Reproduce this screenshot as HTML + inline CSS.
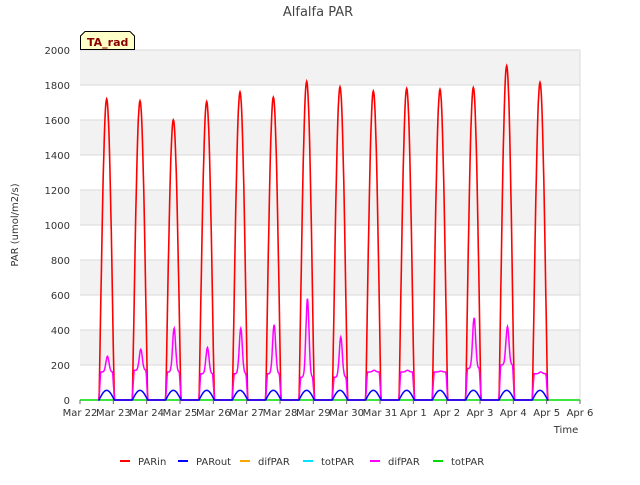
<!DOCTYPE html>
<html><head><meta charset="utf-8"><style>
body{margin:0;background:#fff;font-family:"Liberation Sans","DejaVu Sans",sans-serif;}
svg text{font-family:"DejaVu Sans","Liberation Sans",sans-serif;}
</style></head><body>
<svg id="chart" width="640" height="480">
<text x="318" y="16" text-anchor="middle" font-size="13" fill="#444">Alfalfa PAR</text>
<g id="grid"></g><g id="series"></g><g id="axes"></g>
<text transform="translate(18,225) rotate(-90)" text-anchor="middle" font-size="10" fill="#333">PAR (umol/m2/s)</text>
<text x="566" y="433" text-anchor="middle" font-size="10" fill="#333">Time</text>
<g><path d="M80.5,49.5 V36 L85,31.5 H130 L134.5,36 V49.5 Z" fill="#ffffc8" stroke="#000"/><text x="87" y="46" font-size="11" font-weight="bold" fill="#8b0000">TA_rad</text></g>
<g id="legend"></g>
</svg>
<script>
const dayLabels=["Mar 22","Mar 23","Mar 24","Mar 25","Mar 26","Mar 27","Mar 28","Mar 29","Mar 30","Mar 31","Apr 1","Apr 2","Apr 3","Apr 4","Apr 5","Apr 6"];
const yTicks=[0,200,400,600,800,1000,1200,1400,1600,1800,2000];
const parinPeaks=[1720,1710,1600,1705,1760,1730,1820,1790,1765,1780,1775,1785,1910,1815];
const difparPeaks=[250,290,410,300,410,430,580,360,170,170,165,470,420,160];
const difparBase=[160,170,160,150,150,150,130,130,160,160,160,180,200,150];
const paroutPeaks=[55,55,55,55,55,55,55,55,55,55,55,55,55,55];
const ns="http://www.w3.org/2000/svg";
const X0=80,X1=580,Y0=400,Y1=50;
const xs=d=>X0+(X1-X0)*d/15, ys=v=>Y0-(Y0-Y1)*v/2000;
function mk(t,a,p){const e=document.createElementNS(ns,t);for(const k in a)e.setAttribute(k,a[k]);p.appendChild(e);return e;}
const grid=document.getElementById('grid'),axes=document.getElementById('axes'),ser=document.getElementById('series'),leg=document.getElementById('legend');
for(let i=0;i<yTicks.length-1;i++){if(i%2==1){const r=mk('rect',{x:X0,y:ys(yTicks[i+1]),width:X1-X0,height:ys(yTicks[i])-ys(yTicks[i+1]),fill:'#f2f2f2'},grid);}}
yTicks.forEach(v=>{const l=mk('line',{x1:X0,x2:X1,y1:ys(v),y2:ys(v),stroke:'#d9d9d9'},grid);
const t=mk('text',{x:X0-10,y:ys(v)+4,'text-anchor':'end','font-size':10,fill:'#333'},axes);t.textContent=v;});
mk('line',{x1:X1,x2:X1,y1:Y1,y2:Y0,stroke:'#d9d9d9'},grid);
dayLabels.forEach((s,i)=>{const l=mk('line',{x1:xs(i),x2:xs(i),y1:Y0,y2:Y0+4,stroke:'#666'},axes);
const t=mk('text',{x:xs(i),y:Y0+16,'text-anchor':'middle','font-size':10,fill:'#333'},axes);t.textContent=s;});
function shape(f){return f<=0||f>=1?0:Math.sin(Math.PI*f);}
const S=0.57,W=0.46;
function build(fn){let pts=[];for(let d=0;d<14;d++){for(let k=0;k<=40;k++){const t=d+S-0.02+(W+0.04)*k/40;const f=(t-d-S)/W;pts.push([xs(t),ys(fn(d,f))]);}}return pts.map(p=>p[0].toFixed(1)+','+p[1].toFixed(1)).join(' ');}
const green=mk('polyline',{points:X0+','+Y0+' '+X1+','+Y0,fill:'none',stroke:'#00dd00','stroke-width':1.5},ser);
const pin=mk('polyline',{points:build((d,f)=>parinPeaks[d]*Math.pow(shape(f),1.1)),fill:'none',stroke:'#ff0000','stroke-width':1.6},ser);
const dif=mk('polyline',{points:build((d,f)=>{if(f<=0||f>=1)return 0;const b=difparBase[d]*Math.min(1,shape(f)*3);const sp=(difparPeaks[d]-difparBase[d])*Math.exp(-Math.pow((f-0.55)/0.14,2));return b+Math.max(0,sp);}),fill:'none',stroke:'#ff00ff','stroke-width':1.5},ser);
const pout=mk('polyline',{points:build((d,f)=>paroutPeaks[d]*shape(f)),fill:'none',stroke:'#0000ff','stroke-width':1.5},ser);
const legendNames=["PARin","PARout","difPAR","totPAR","difPAR","totPAR"];
const legendColors=["#ff0000","#0000ff","#ffa500","#00e5ff","#ff00ff","#00dd00"];
const legendX=[120,178,240,303,370,433];
legendNames.forEach((n,i)=>{const g=mk('g',{},leg);
mk('line',{x1:legendX[i],x2:legendX[i]+10,y1:461,y2:461,stroke:legendColors[i],'stroke-width':2},g);
const t=mk('text',{x:legendX[i]+18,y:465,'font-size':10,fill:'#333'},g);t.textContent=n;});
</script>
</body></html>
